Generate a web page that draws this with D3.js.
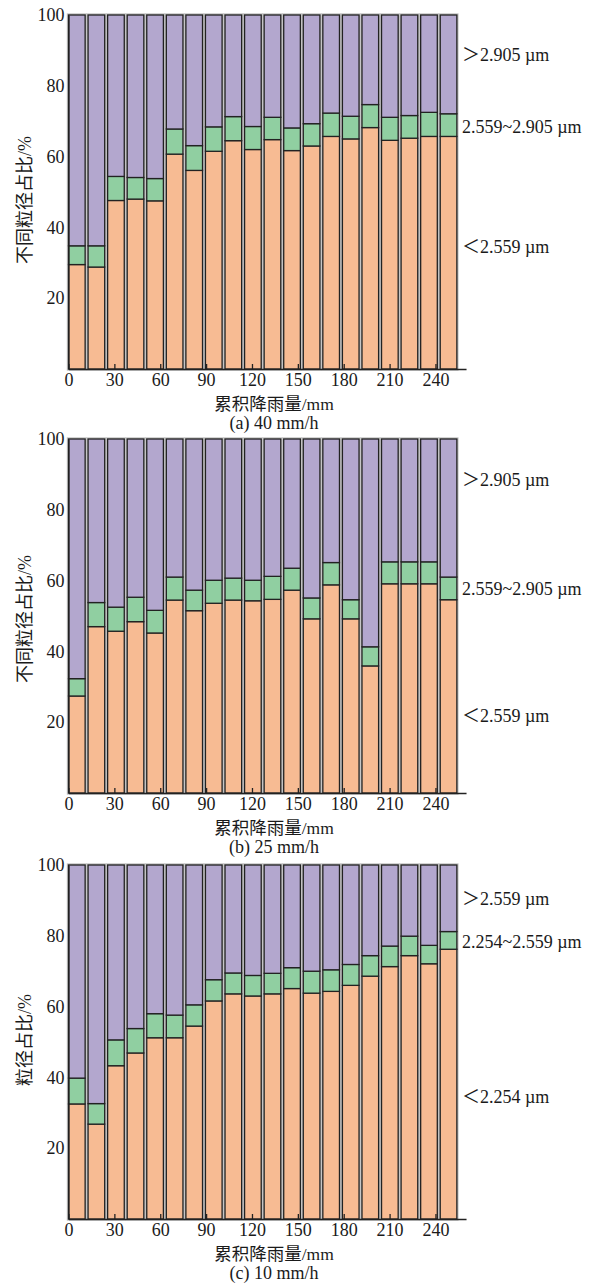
<!DOCTYPE html>
<html>
<head>
<meta charset="utf-8">
<script src="https://cdn.jsdelivr.net/npm/d3@7"></script>
<style>
  html, body { margin: 0; padding: 0; background: #fff; }
  svg text { fill: #1a1a1a; }
</style>
</head>
<body>
<svg id="chart" width="595" height="1283"></svg>
<script>
// Sampling intervals (20 consecutive rainfall stages)
const intervals = ["1","2","3","4","5","6","7","8","9","10","11","12","13","14","15","16","17","18","19","20"];

// x-axis tick labels: cumulative rainfall, mm
const xTicks = [0, 30, 60, 90, 120, 150, 180, 210, 240];
// y-axis tick labels: share, %
const yTicks = [20, 40, 60, 80, 100];

// (a) 40 mm/h — share of each size class, %
const fineA   = [29.5,28.8,47.6,48.0,47.5,60.7,56.1,61.5,64.5,62.0,64.8,61.7,63.0,65.7,65.0,68.2,64.6,65.2,65.7,65.7];
const midA    = [5.3,6.0,6.8,6.1,6.3,7.1,7.0,6.9,6.8,6.5,6.3,6.4,6.3,6.6,6.4,6.5,6.5,6.4,6.8,6.4];
const coarseA = [65.2,65.2,45.6,45.9,46.2,32.2,36.9,31.6,28.7,31.5,28.9,31.9,30.7,27.7,28.6,25.3,28.9,28.4,27.5,27.9];

// (b) 25 mm/h
const fineB   = [27.4,47.0,45.7,48.4,45.2,54.5,51.5,53.6,54.5,54.3,54.7,57.3,49.2,58.8,49.2,35.9,59.1,59.1,59.1,54.6];
const midB    = [4.9,6.8,6.8,6.9,6.4,6.5,5.8,6.5,6.2,5.8,6.5,6.2,5.9,6.3,5.4,5.4,6.2,6.2,6.2,6.4];
const coarseB = [67.7,46.2,47.5,44.7,48.4,39.0,42.7,39.9,39.3,39.9,38.8,36.5,44.9,34.9,45.4,58.7,34.7,34.7,34.7,39.0];

// (c) 10 mm/h
const fineC   = [32.5,26.8,43.3,46.9,51.2,51.2,54.5,61.6,63.6,63.0,63.6,65.1,63.8,64.3,66.0,68.6,71.3,74.4,72.1,76.2];
const midC    = [7.3,5.8,7.3,6.9,6.8,6.4,6.0,6.0,5.9,5.8,5.8,5.9,6.2,6.1,5.9,5.8,5.8,5.5,5.2,5.0];
const coarseC = [60.2,67.4,49.4,46.2,42.0,42.4,39.5,32.4,30.5,31.2,30.6,29.0,30.0,29.6,28.1,25.6,22.9,20.1,22.7,18.8];

// Size-class labels per panel (fine, mid, coarse)
const classesAB = ["＜2.559 µm", "2.559~2.905 µm", "＞2.905 µm"];
const classesC  = ["＜2.254 µm", "2.254~2.559 µm", "＞2.559 µm"];

const titles  = ["(a) 40 mm/h", "(b) 25 mm/h", "(c) 10 mm/h"];
// axis titles: [CJK part, unit part]
const yTitles = [["不同粒径占比", "/%"], ["不同粒径占比", "/%"], ["粒径占比", "/%"]];
const xTitle  = ["累积降雨量", "/mm"];

const colors = ["#f7bb93", "#90cfa1", "#b3a7ce"];

const panels = [
  { fine: fineA, mid: midA, coarse: coarseA, classes: classesAB, labelAt: [34.5, 68.4, 88.7], yTitleAt: 169 },
  { fine: fineB, mid: midB, coarse: coarseB, classes: classesAB, labelAt: [21.7, 57.7, 88.5], yTitleAt: 174 },
  { fine: fineC, mid: midC, coarse: coarseC, classes: classesC,  labelAt: [34.5, 78.2, 90.4], yTitleAt: 179 }
];

const svg = d3.select("#chart");
const serif = "'Liberation Serif', 'Times New Roman', 'Noto Sans CJK SC', serif";
const cjk = "'Noto Sans CJK SC', 'Liberation Serif', sans-serif";

const tops = [15, 439, 865];
const plotH = 354;
const x0 = 68.5;

// cumulative rainfall scale, shared by all panels
const x = d3.scaleLinear().domain([0, 260]).range([x0, x0 + 260 * 1.529]);
const band = d3.scaleBand().domain(intervals).range([x(0), x(254)]).paddingInner(0.15).paddingOuter(0);

const stack = d3.stack().keys(["fine", "mid", "coarse"]);

function mixedTitle(sel, parts) {
  sel.append("tspan").attr("font-family", cjk).text(parts[0]);
  sel.append("tspan").attr("font-family", serif).text(parts[1]);
}

panels.forEach((p, pi) => {
  const top = tops[pi];
  const bottom = top + plotH;
  const y = d3.scaleLinear().domain([0, 100]).range([bottom, top]);
  const g = svg.append("g");

  const rows = intervals.map((k, i) => ({ key: k, fine: p.fine[i], mid: p.mid[i], coarse: p.coarse[i] }));
  const series = stack(rows);

  // bar halo (light grey seam between neighbouring bars)
  g.append("g").selectAll("rect")
    .data(rows)
    .join("rect")
    .attr("x", d => band(d.key))
    .attr("y", y(100))
    .attr("width", band.bandwidth())
    .attr("height", y(0) - y(100))
    .attr("fill", "none")
    .attr("stroke", "#c2c2c2")
    .attr("stroke-width", 3.4);

  // stacked segments
  series.forEach((s, si) => {
    g.append("g").selectAll("rect")
      .data(s)
      .join("rect")
      .attr("x", d => band(d.data.key))
      .attr("y", d => y(d[1]))
      .attr("width", band.bandwidth())
      .attr("height", d => y(d[0]) - y(d[1]))
      .attr("fill", colors[si])
      .attr("stroke", "#222")
      .attr("stroke-width", 1.3);
  });

  // x axis: inward ticks drawn over bars
  const xAxis = d3.axisBottom(x).tickValues(xTicks).tickSizeInner(-5).tickSizeOuter(0).tickPadding(4);
  const xg = g.append("g").attr("transform", `translate(0,${bottom})`).call(xAxis);
  xg.select(".domain").attr("stroke", "#222").attr("stroke-width", 1.3);
  xg.selectAll(".tick line").attr("stroke", "#222").attr("stroke-width", 1.3);
  xg.selectAll(".tick text").attr("font-family", serif).attr("font-size", 18).attr("fill", "#1a1a1a");

  // y axis
  const yAxis = d3.axisLeft(y).tickValues(yTicks).tickSize(0).tickPadding(4);
  const yg = g.append("g").attr("transform", `translate(${x0},0)`).call(yAxis);
  yg.select(".domain").attr("stroke", "#222").attr("stroke-width", 1.3);
  yg.selectAll(".tick text").attr("font-family", serif).attr("font-size", 18).attr("fill", "#1a1a1a");

  // size-class labels to the right of the last bar
  p.classes.forEach((c, ci) => {
    g.append("text")
      .attr("x", 462)
      .attr("y", y(p.labelAt[ci]))
      .attr("dy", "0.35em")
      .attr("font-family", serif)
      .attr("font-size", 18)
      .text(c);
  });

  // y title
  g.append("text")
    .attr("transform", `translate(25,${bottom - p.yTitleAt}) rotate(-90)`)
    .attr("text-anchor", "middle")
    .attr("dy", "0.35em")
    .attr("font-size", 18)
    .call(mixedTitle, yTitles[pi]);

  // x title and panel caption
  g.append("text")
    .attr("x", 274)
    .attr("y", bottom + 41)
    .attr("text-anchor", "middle")
    .attr("font-size", 17.5)
    .call(mixedTitle, xTitle);

  g.append("text")
    .attr("x", 274)
    .attr("y", bottom + 60)
    .attr("text-anchor", "middle")
    .attr("font-family", serif)
    .attr("font-size", 18)
    .text(titles[pi]);
});
</script>
</body>
</html>
